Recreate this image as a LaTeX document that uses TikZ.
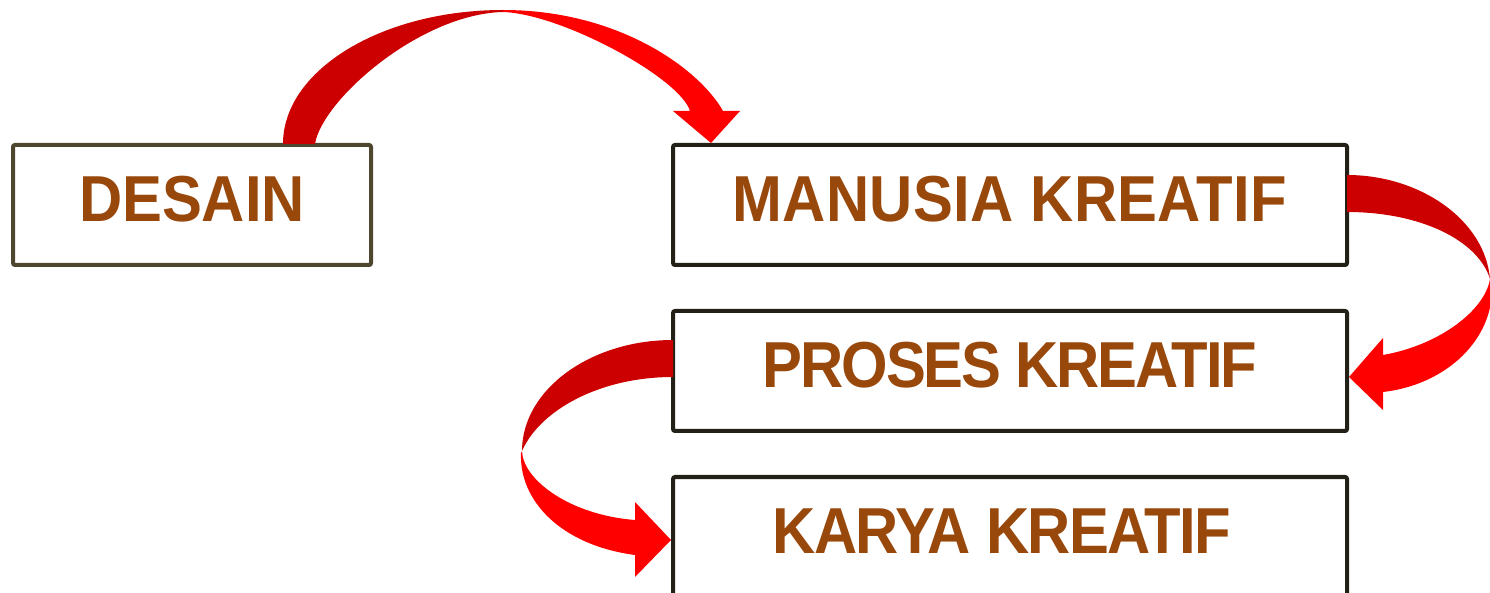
\documentclass[tikz,border=0pt]{standalone}
\usepackage{fontspec}
\usetikzlibrary{calc}
\newfontfamily\labelfont{Liberation Sans}[FakeStretch=0.92]
\definecolor{boxtext}{RGB}{153,72,12}
\definecolor{darkred}{RGB}{204,0,0}
\definecolor{brightred}{RGB}{255,0,0}
\definecolor{desainline}{RGB}{78,70,46}
\definecolor{boxline}{RGB}{35,32,24}

\begin{document}
\begin{tikzpicture}
[x=0.5pt, y=-0.5pt, every node/.style={inner sep=0pt},
 stagebox/.style={rectangle, rounded corners=1pt, line width=2pt, draw=boxline, minimum height=60pt,
   text height=23.3pt, text depth=6.5pt, text=boxtext, font=\labelfont\bfseries\fontsize{32.5pt}{36pt}\selectfont},
 ribbondark/.style={fill=darkred},
 ribbonbright/.style={fill=brightred}]
\useasboundingbox (0,0) rectangle (1490,593);
\node (desain) [stagebox, draw=desainline, minimum width=179pt] at (192,205) {DESAIN};
\node (manusia) [stagebox, minimum width=337pt] at (1010,205) {\addfontfeature{LetterSpace=0.5}MANUSIA KREATIF};
\node (proses) [stagebox, minimum width=337pt] at (1010,371) {\addfontfeature{LetterSpace=-3.4}PROSES KREATIF};
\node (karya) [stagebox, minimum width=337pt] at (1010,537) {\addfontfeature{LetterSpace=-2.4}KARYA KREATIF\kern8pt};
% desain -> manusia
\fill [ribbondark] (283,144) .. controls (283,70) and (382,10) .. (503,10) -- (503,12)
  .. controls (420,14) and (322,100) .. (315,144) -- cycle;
\fill [ribbonbright] (503,10) .. controls (620,10) and (700,70) .. (723,111) -- (740,111)
  -- ($(manusia.north west)+(40,0)$) -- (673,111) -- (690,111) .. controls (680,78) and (562,14) .. (503,12) -- cycle;
% manusia -> proses
\fill [ribbondark] (1347,175) .. controls (1420,175) and (1485,220) .. (1490,279)
  .. controls (1478,240) and (1420,212) .. (1347,212) -- cycle;
\fill [ribbonbright] (1490,279) .. controls (1485,310) and (1440,345) .. (1383,355) -- (1383,338)
  -- ($(proses.east)+(0,6)$) -- (1383,410) -- (1383,392) .. controls (1445,385) and (1496,340) .. (1492,281) -- cycle;
% proses -> karya
\fill [ribbondark] (673,340) .. controls (590,340) and (522,390) .. (522,451)
  .. controls (540,410) and (600,377) .. (673,377) -- cycle;
\fill [ribbonbright] (522,451) .. controls (523,480) and (570,515) .. (635,520) -- (635,502)
  -- ($(karya.west)+(0,3)$) -- (635,577) -- (635,555) .. controls (560,545) and (519,500) .. (521,453) -- cycle;
\end{tikzpicture}
\end{document}
